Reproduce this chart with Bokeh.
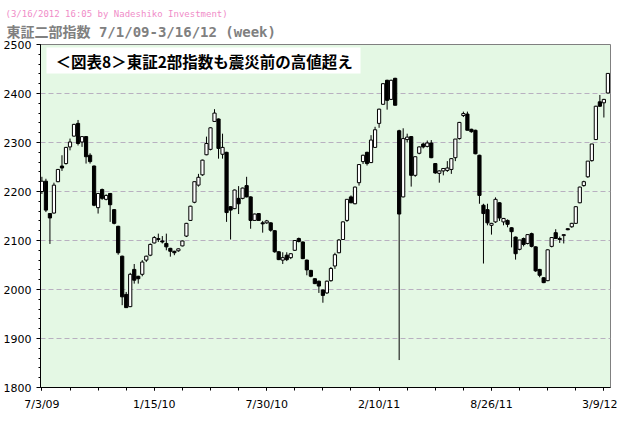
from bokeh.plotting import figure
from bokeh.models import Range1d, FixedTicker, Label, BoxAnnotation, ColumnDataSource, Title
from bokeh.embed import file_html
from bokeh.resources import INLINE

# Weekly OHLC of the TSE 2nd Section index, week 0 = 7/3/09 ... week 141 = 3/16/12
opens = [
    2200, 2221, 2155, 2156, 2220, 2252, 2257, 2291, 2313, 2339,
    2301, 2312, 2274, 2252, 2167, 2204, 2184, 2196, 2163, 2129,
    2068, 1990, 1965, 2041, 2027, 2031, 2060, 2070, 2095, 2102,
    2099, 2094, 2084, 2078, 2079, 2089, 2109, 2141, 2178, 2213,
    2234, 2275, 2286, 2343, 2348, 2276, 2280, 2169, 2165, 2186,
    2186, 2212, 2189, 2141, 2155, 2136, 2136, 2136, 2120, 2077,
    2060, 2070, 2065, 2080, 2104, 2097, 2060, 2039, 2022, 2017,
    1999, 1993, 2018, 2048, 2075, 2102, 2141, 2189, 2175, 2218,
    2261, 2280, 2259, 2290, 2339, 2378, 2427, 2388, 2431, 2324,
    2189, 2306, 2312, 2233, 2278, 2297, 2292, 2299, 2257, 2237,
    2242, 2243, 2245, 2269, 2308, 2355, 2358, 2327, 2325, 2274,
    2172, 2163, 2131, 2138, 2177, 2138, 2141, 2126, 2107, 2082,
    2104, 2094, 2114, 2087, 2041, 2024, 2018, 2088, 2116, 2104,
    2110, 2124, 2128, 2135, 2177, 2212, 2230, 2263, 2306, 2383,
    2381, 2401]

closes = [
    2221, 2162, 2146, 2213, 2245, 2248, 2290, 2301, 2337, 2298,
    2312, 2271, 2261, 2172, 2196, 2186, 2192, 2173, 2135, 2075,
    1985, 1963, 2031, 2019, 2022, 2056, 2068, 2092, 2106, 2104,
    2097, 2087, 2078, 2075, 2083, 2099, 2135, 2170, 2220, 2229,
    2264, 2298, 2330, 2360, 2288, 2290, 2157, 2162, 2203, 2175,
    2207, 2189, 2141, 2154, 2141, 2134, 2140, 2121, 2077, 2061,
    2065, 2061, 2073, 2100, 2098, 2063, 2040, 2027, 2012, 2007,
    1988, 2017, 2043, 2071, 2101, 2138, 2184, 2177, 2209, 2255,
    2274, 2257, 2305, 2326, 2368, 2420, 2386, 2427, 2376, 2154,
    2308, 2311, 2233, 2271, 2291, 2291, 2299, 2269, 2238, 2242,
    2247, 2248, 2267, 2307, 2341, 2359, 2325, 2322, 2277, 2192,
    2155, 2136, 2135, 2184, 2146, 2145, 2133, 2118, 2073, 2101,
    2092, 2112, 2088, 2038, 2029, 2014, 2081, 2106, 2104, 2102,
    2112, 2122, 2135, 2169, 2209, 2220, 2262, 2297, 2374, 2374,
    2388, 2441]

highs = [
    2230, 2226, 2156, 2218, 2246, 2274, 2291, 2308, 2338, 2346,
    2313, 2313, 2278, 2253, 2197, 2206, 2194, 2197, 2164, 2130,
    2069, 1995, 2034, 2052, 2028, 2060, 2069, 2094, 2109, 2114,
    2109, 2114, 2085, 2079, 2084, 2100, 2136, 2171, 2220, 2236,
    2265, 2312, 2331, 2368, 2349, 2318, 2281, 2170, 2204, 2211,
    2208, 2230, 2190, 2155, 2156, 2140, 2142, 2137, 2121, 2078,
    2076, 2076, 2074, 2101, 2106, 2098, 2061, 2040, 2023, 2018,
    2000, 2018, 2046, 2075, 2103, 2139, 2184, 2192, 2210, 2256,
    2275, 2281, 2315, 2332, 2369, 2421, 2428, 2428, 2432, 2326,
    2329, 2318, 2313, 2271, 2292, 2300, 2304, 2305, 2258, 2243,
    2247, 2262, 2268, 2307, 2342, 2363, 2363, 2328, 2326, 2275,
    2175, 2175, 2136, 2188, 2178, 2146, 2143, 2127, 2108, 2101,
    2106, 2113, 2116, 2088, 2042, 2025, 2082, 2107, 2123, 2108,
    2113, 2125, 2136, 2170, 2210, 2222, 2262, 2297, 2375, 2397,
    2389, 2441]

lows = [
    2195, 2158, 2093, 2155, 2219, 2242, 2255, 2284, 2312, 2294,
    2291, 2257, 2257, 2170, 2155, 2183, 2182, 2138, 2133, 2071,
    1968, 1963, 1964, 2012, 2012, 2027, 2056, 2068, 2094, 2097,
    2094, 2080, 2067, 2070, 2077, 2088, 2107, 2140, 2176, 2210,
    2232, 2274, 2284, 2342, 2267, 2267, 2138, 2102, 2164, 2154,
    2184, 2188, 2124, 2140, 2141, 2116, 2134, 2118, 2075, 2060,
    2052, 2058, 2062, 2079, 2096, 2062, 2029, 2025, 2011, 1993,
    1973, 1991, 2016, 2042, 2074, 2101, 2138, 2176, 2174, 2212,
    2256, 2253, 2258, 2289, 2330, 2377, 2367, 2387, 2376, 1856,
    2188, 2300, 2210, 2230, 2276, 2288, 2290, 2268, 2236, 2218,
    2233, 2240, 2236, 2262, 2306, 2352, 2325, 2320, 2276, 2175,
    2053, 2131, 2112, 2136, 2140, 2131, 2127, 2086, 2061, 2080,
    2088, 2092, 2086, 2036, 2025, 2013, 2017, 2086, 2103, 2095,
    2094, 2121, 2126, 2134, 2176, 2210, 2228, 2261, 2305, 2373,
    2351, 2400]

tick_weeks = [0, 28, 56, 84, 112, 140]
tick_labels = ["7/3/09", "1/15/10", "7/30/10", "2/10/11", "8/26/11", "3/9/12"]
y_ticks = [1800, 1900, 2000, 2100, 2200, 2300, 2400, 2500]

subtitle = "(3/16/2012 16:05 by Nadeshiko Investment)"
title = "東証二部指数  7/1/09-3/16/12 (week)"
note = "＜図表8＞東証2部指数も震災前の高値超え"

weeks = list(range(len(opens)))
tops = [max(o, c) for o, c in zip(opens, closes)]
bottoms = [min(o, c) for o, c in zip(opens, closes)]
fills = ["white" if c >= o else "black" for o, c in zip(opens, closes)]

src = ColumnDataSource(dict(week=weeks, high=highs, low=lows, top=tops,
                            bottom=bottoms, fill=fills))

FW, FH = 570, 343
p = figure(frame_width=FW, frame_height=FH, output_backend="svg",
           toolbar_location=None, x_range=Range1d(-0.35, 141.65),
           y_range=Range1d(1800, 2500),
           min_border_left=36, min_border_right=7, min_border_top=44,
           min_border_bottom=26)

p.background_fill_color = "#e4f8e4"
p.border_fill_color = "white"
p.outline_line_color = "#808080"

# titles above the frame (first added sits closest to the frame)
p.add_layout(Title(text=title, text_font="DejaVu Sans Mono, Noto Sans CJK JP",
                   text_font_size="14px", text_font_style="bold",
                   text_color="#808080", align="left", offset=-34,
                   vertical_align="middle", standoff=8), "above")
p.add_layout(Title(text=subtitle, text_font="DejaVu Sans Mono",
                   text_font_size="9px", text_font_style="normal",
                   text_color="#f08cc8", align="left", offset=-35,
                   vertical_align="middle", standoff=-3), "above")

p.segment(x0="week", y0="low", x1="week", y1="high", source=src,
          line_color="black", line_width=1)
p.vbar(x="week", width=0.8, top="top", bottom="bottom", source=src,
       fill_color="fill", line_color="black", line_width=1)

# axes
xa = p.xaxis[0]
xa.ticker = FixedTicker(ticks=tick_weeks, minor_ticks=list(range(0, 141, 7)))
xa.major_label_overrides = {w: l for w, l in zip(tick_weeks, tick_labels)}
ya = p.yaxis[0]
ya.ticker = FixedTicker(ticks=y_ticks, minor_ticks=list(range(1800, 2501, 20)))
for ax in (xa, ya):
    ax.axis_line_color = "black"
    ax.major_tick_line_color = "black"
    ax.minor_tick_line_color = "black"
    ax.major_tick_in = 0
    ax.minor_tick_in = 0
    ax.major_label_text_font = "DejaVu Sans"
    ax.major_label_text_font_size = "11px"
    ax.major_label_text_color = "black"
xa.major_tick_out = 3
xa.minor_tick_out = 3
xa.major_label_standoff = 7
ya.major_tick_out = 4
ya.minor_tick_out = 2
ya.major_label_standoff = 5

p.xgrid.visible = False
p.ygrid.ticker = FixedTicker(ticks=[1900, 2000, 2100, 2200, 2300, 2400])
p.ygrid.grid_line_color = "#b8b0c0"
p.ygrid.grid_line_dash = "5 3"

# annotation box inside the frame
p.add_layout(BoxAnnotation(left=6, right=320, top=FH - 3, bottom=FH - 29,
                           left_units="screen", right_units="screen",
                           top_units="screen", bottom_units="screen",
                           fill_color="white", fill_alpha=1.0, line_color=None))
p.add_layout(Label(x=15, y=FH - 16, x_units="screen", y_units="screen",
                   text=note, text_font="Noto Sans CJK JP", text_font_size="15.5px",
                   text_font_style="bold", text_color="black",
                   text_baseline="middle"))

open("out.html", "w").write(file_html(p, INLINE))
